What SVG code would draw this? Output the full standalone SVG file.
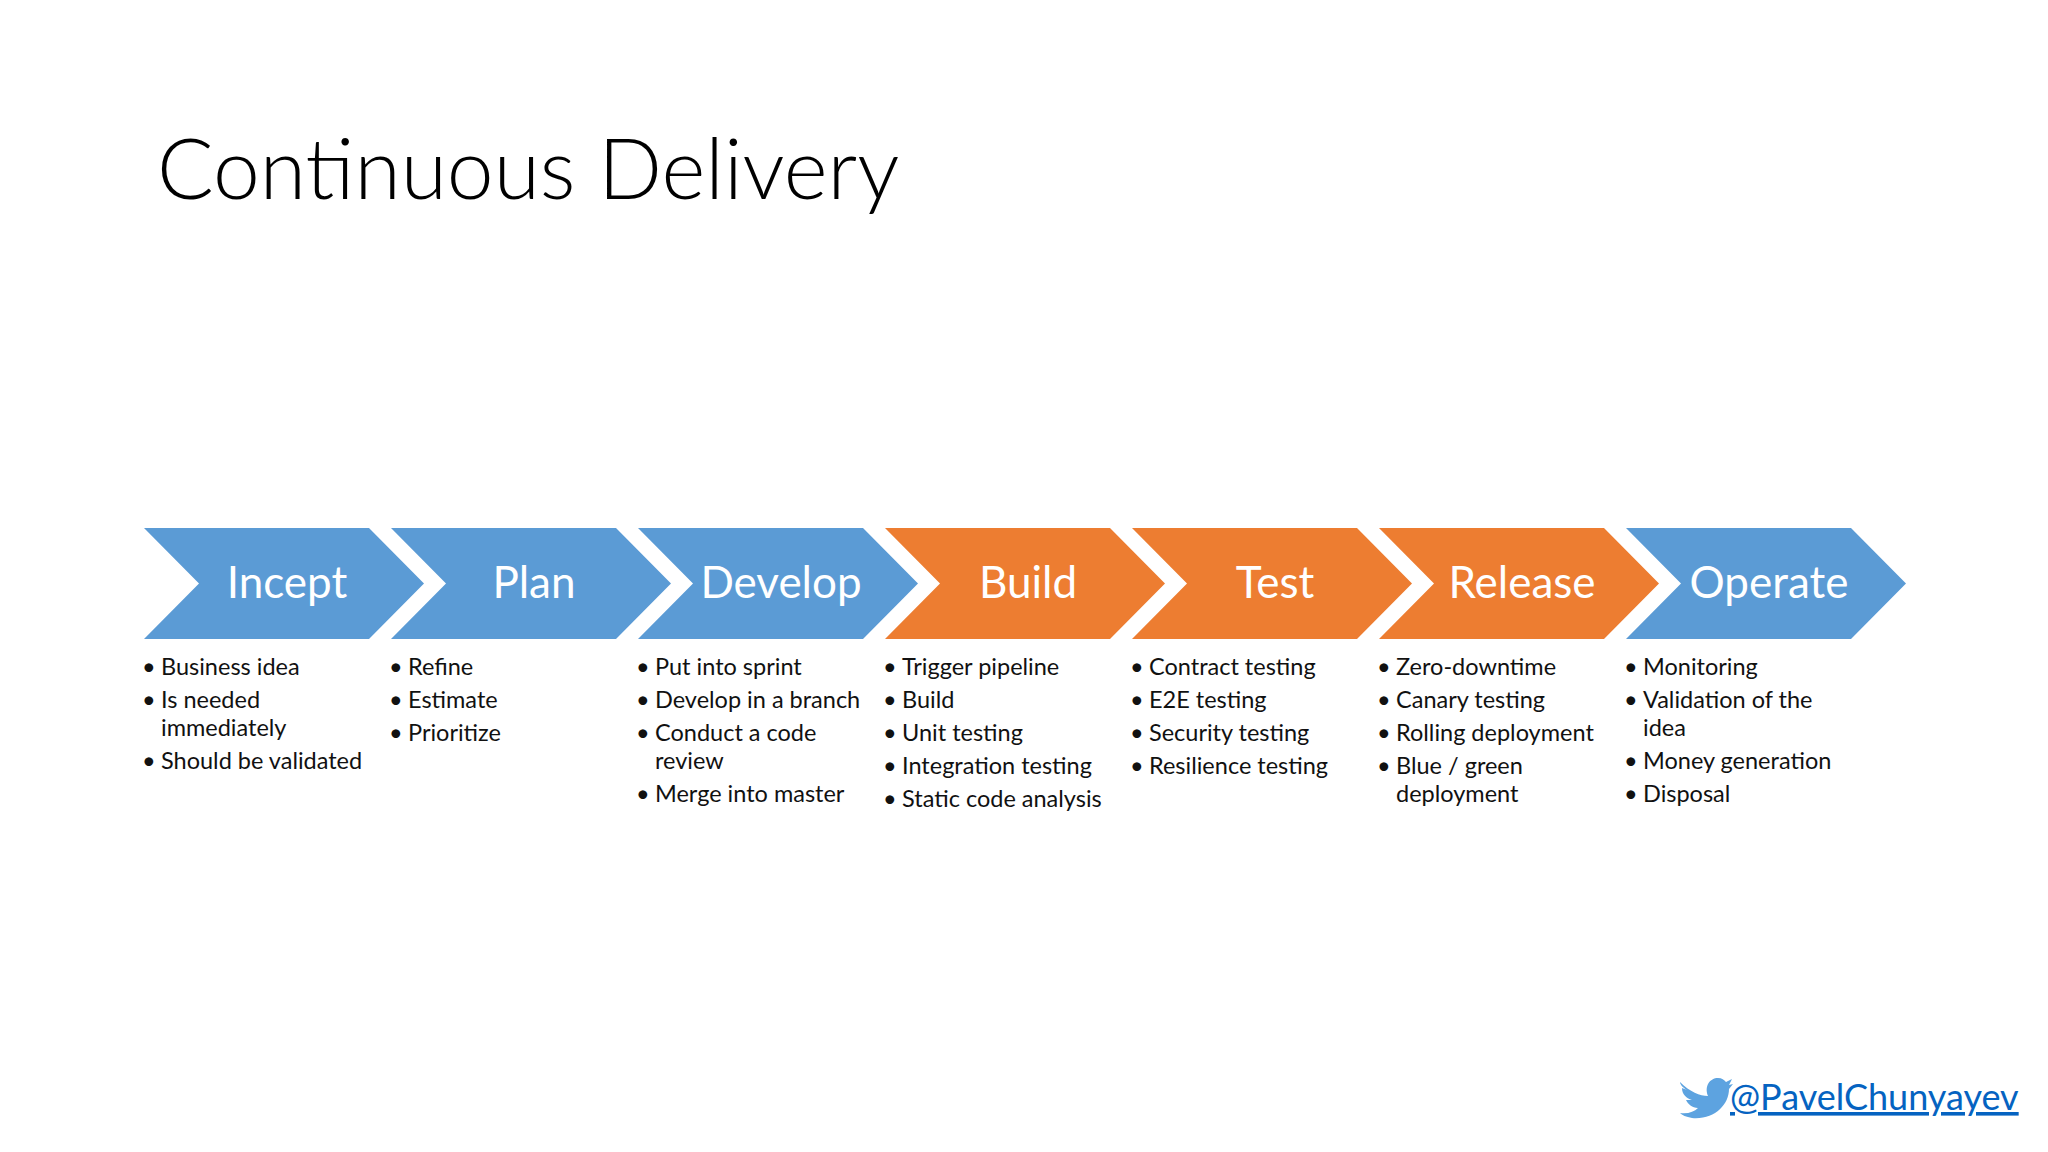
<svg xmlns="http://www.w3.org/2000/svg" width="2048" height="1152" viewBox="0 0 2048 1152">
<style>
.b{fill:#5B9BD5}.o{fill:#ED7D31}
.lbl{font-family:Lato,"Open Sans",sans-serif;font-size:44px;fill:#fff;text-anchor:middle}
.t{font-family:Lato,"Open Sans",sans-serif;font-size:23.5px;fill:#111}
</style>
<defs>
<polygon id="ch" points="0,0 225,0 280,55.5 225,111 0,111 55,55.5"/>
</defs>
<rect width="2048" height="1152" fill="#fff"/>
<text x="157" y="199" font-family="Lato,'Open Sans',sans-serif" font-weight="300" font-size="84" fill="#000">Continuous Delivery</text>
<g id="incept"><use href="#ch" x="144" y="528" class="b"/><text class="lbl" x="287" y="598">Incept</text>
<text class="t"><tspan x="142" y="675">•</tspan><tspan x="161" y="675">Business idea</tspan><tspan x="142" y="708">•</tspan><tspan x="161" y="708">Is needed</tspan><tspan x="161" y="736">immediately</tspan><tspan x="142" y="769">•</tspan><tspan x="161" y="769">Should be validated</tspan></text></g>
<g id="plan"><use href="#ch" x="391" y="528" class="b"/><text class="lbl" x="534" y="598">Plan</text>
<text class="t"><tspan x="389" y="675">•</tspan><tspan x="408" y="675">Refine</tspan><tspan x="389" y="708">•</tspan><tspan x="408" y="708">Estimate</tspan><tspan x="389" y="741">•</tspan><tspan x="408" y="741">Prioritize</tspan></text></g>
<g id="develop"><use href="#ch" x="638" y="528" class="b"/><text class="lbl" x="781" y="598">Develop</text>
<text class="t"><tspan x="636" y="675">•</tspan><tspan x="655" y="675">Put into sprint</tspan><tspan x="636" y="708">•</tspan><tspan x="655" y="708">Develop in a branch</tspan><tspan x="636" y="741">•</tspan><tspan x="655" y="741">Conduct a code</tspan><tspan x="655" y="769">review</tspan><tspan x="636" y="802">•</tspan><tspan x="655" y="802">Merge into master</tspan></text></g>
<g id="build"><use href="#ch" x="885" y="528" class="o"/><text class="lbl" x="1028" y="598">Build</text>
<text class="t"><tspan x="883" y="675">•</tspan><tspan x="902" y="675">Trigger pipeline</tspan><tspan x="883" y="708">•</tspan><tspan x="902" y="708">Build</tspan><tspan x="883" y="741">•</tspan><tspan x="902" y="741">Unit testing</tspan><tspan x="883" y="774">•</tspan><tspan x="902" y="774">Integration testing</tspan><tspan x="883" y="807">•</tspan><tspan x="902" y="807">Static code analysis</tspan></text></g>
<g id="test"><use href="#ch" x="1132" y="528" class="o"/><text class="lbl" x="1275" y="598">Test</text>
<text class="t"><tspan x="1130" y="675">•</tspan><tspan x="1149" y="675">Contract testing</tspan><tspan x="1130" y="708">•</tspan><tspan x="1149" y="708">E2E testing</tspan><tspan x="1130" y="741">•</tspan><tspan x="1149" y="741">Security testing</tspan><tspan x="1130" y="774">•</tspan><tspan x="1149" y="774">Resilience testing</tspan></text></g>
<g id="release"><use href="#ch" x="1379" y="528" class="o"/><text class="lbl" x="1522" y="598">Release</text>
<text class="t"><tspan x="1377" y="675">•</tspan><tspan x="1396" y="675">Zero-downtime</tspan><tspan x="1377" y="708">•</tspan><tspan x="1396" y="708">Canary testing</tspan><tspan x="1377" y="741">•</tspan><tspan x="1396" y="741">Rolling deployment</tspan><tspan x="1377" y="774">•</tspan><tspan x="1396" y="774">Blue / green</tspan><tspan x="1396" y="802">deployment</tspan></text></g>
<g id="operate"><use href="#ch" x="1626" y="528" class="b"/><text class="lbl" x="1769" y="598">Operate</text>
<text class="t"><tspan x="1624" y="675">•</tspan><tspan x="1643" y="675">Monitoring</tspan><tspan x="1624" y="708">•</tspan><tspan x="1643" y="708">Validation of the</tspan><tspan x="1643" y="736">idea</tspan><tspan x="1624" y="769">•</tspan><tspan x="1643" y="769">Money generation</tspan><tspan x="1624" y="802">•</tspan><tspan x="1643" y="802">Disposal</tspan></text></g>
<g id="connectors"/>
<g id="twitter">
<path d="M1680,1082 C1690,1092 1700,1096 1708,1096 C1704,1086 1710,1078 1718,1078 C1722,1078 1724,1080 1726,1082 L1732,1079 L1729,1085 L1733,1084 L1729,1089 C1729,1105 1714,1120 1692,1118 C1686,1117 1682,1115 1680,1113 C1688,1114 1694,1112 1698,1108 C1692,1108 1688,1104 1686,1100 L1692,1100 C1686,1098 1682,1094 1682,1088 L1687,1090 C1682,1087 1680,1084 1680,1082 Z" fill="#5DA3E0"/>
<text x="1730" y="1110" font-family="Lato,'Open Sans',sans-serif" font-size="36" fill="#0563C1" text-decoration="underline">@PavelChunyayev</text>
</g>
</svg>
